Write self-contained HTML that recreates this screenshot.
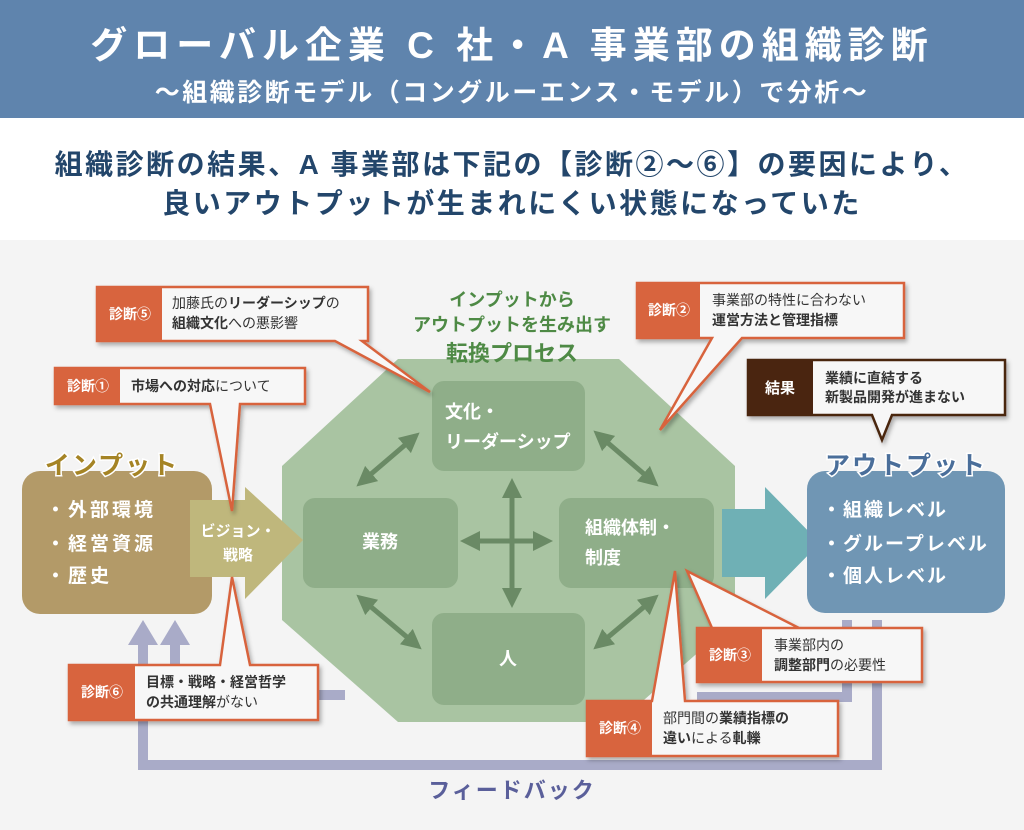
<!DOCTYPE html>
<html><head><meta charset="utf-8"><style>
html,body{margin:0;padding:0;width:1024px;height:830px;overflow:hidden;background:#f4f4f4}
svg{display:block}
text{font-family:"Liberation Sans","Noto Sans CJK JP",sans-serif;font-weight:bold}
.n{font-weight:normal}
</style></head><body>
<svg width="1024" height="830" viewBox="0 0 1024 830" xmlns="http://www.w3.org/2000/svg">
<defs>
<filter id="sh" x="-10%" y="-10%" width="130%" height="140%"><feDropShadow dx="2" dy="3" stdDeviation="2" flood-color="#000" flood-opacity="0.3"/></filter>
<marker id="ah" markerWidth="4" markerHeight="4" refX="2" refY="2" orient="auto-start-reverse"><path d="M0,0 L4,2 L0,4 z" fill="#6a8a65"/></marker>
</defs>
<rect x="0" y="0" width="1024" height="118" fill="#5f84ad"/>
<rect x="0" y="118" width="1024" height="122" fill="#ffffff"/>
<text x="512" y="58" font-size="37" fill="#fff" text-anchor="middle" letter-spacing="6">グローバル企業 C 社・A 事業部の組織診断</text>
<text x="512" y="101" font-size="25" fill="#fff" text-anchor="middle" letter-spacing="2.5">〜組織診断モデル（コングルーエンス・モデル）で分析〜</text>
<text x="512" y="174" font-size="28" fill="#23466b" text-anchor="middle" letter-spacing="2.5">組織診断の結果、A 事業部は下記の【診断②〜⑥】の要因により、</text>
<text x="512" y="213" font-size="28" fill="#23466b" text-anchor="middle" letter-spacing="2.5">良いアウトプットが生まれにくい状態になっていた</text>

<!-- feedback lines -->
<g stroke="#a9abc8" stroke-width="10" fill="none">
<polyline points="143,635 143,765 877,765 877,620"/>
<polyline points="175,635 175,695 345,695"/>
<polyline points="847,620 847,697 697,697"/>
</g>
<path d="M128,645 L143,620 L158,645 z" fill="#a9abc8"/>
<path d="M160,645 L175,620 L190,645 z" fill="#a9abc8"/>
<text x="512" y="798" font-size="22" fill="#5a5f9a" text-anchor="middle" letter-spacing="2">フィードバック</text>

<!-- octagon -->
<polygon points="398,359 619,359 735,466 735,620 619,722 398,722 282,620 282,466" fill="#a9c4a2"/>
<text x="512" y="306" font-size="18" fill="#4e8a45" text-anchor="middle">インプットから</text>
<text x="512" y="331" font-size="18" fill="#4e8a45" text-anchor="middle">アウトプットを生み出す</text>
<text x="512" y="361" font-size="22" fill="#4e8a45" text-anchor="middle">転換プロセス</text>

<g fill="#8fae89">
<rect x="432" y="381" width="153" height="90" rx="12"/>
<rect x="303" y="498" width="155" height="90" rx="12"/>
<rect x="559" y="498" width="155" height="90" rx="12"/>
<rect x="432" y="613" width="153" height="92" rx="12"/>
</g>
<g font-size="18" fill="#fff">
<text x="445" y="418">文化・</text>
<text x="445" y="448">リーダーシップ</text>
<text x="380" y="548" text-anchor="middle">業務</text>
<text x="585" y="534">組織体制・</text>
<text x="585" y="564">制度</text>
<text x="508" y="665" text-anchor="middle">人</text>
</g>
<g stroke="#6a8a65" stroke-width="5" marker-start="url(#ah)" marker-end="url(#ah)">
<line x1="412" y1="439" x2="364" y2="480"/>
<line x1="601" y1="437" x2="651" y2="480"/>
<line x1="364" y1="601" x2="414" y2="643"/>
<line x1="651" y1="601" x2="601" y2="643"/>
<line x1="512" y1="488" x2="512" y2="598"/>
<line x1="470" y1="541" x2="543" y2="541"/>
</g>

<!-- input -->
<rect x="22" y="471" width="190" height="143" rx="18" fill="#b39a68"/>
<text x="112" y="474" font-size="25" fill="#a58425" stroke="#fff" stroke-width="3" paint-order="stroke" text-anchor="middle" letter-spacing="2">インプット</text>
<g font-size="19" fill="#fff" letter-spacing="3">
<text x="46" y="516">・外部環境</text>
<text x="46" y="550">・経営資源</text>
<text x="46" y="582">・歴史</text>
</g>
<polygon points="190,500 245,500 245,487 303,540 245,599 245,577 190,577" fill="#bfb77c"/>
<text x="238" y="536" font-size="15" fill="#fff" text-anchor="middle">ビジョン・</text>
<text x="238" y="560" font-size="15" fill="#fff" text-anchor="middle">戦略</text>

<!-- output -->
<polygon points="722,509 765,509 765,487 820,543 765,599 765,577 722,577" fill="#6fb0b5"/>
<rect x="807" y="471" width="198" height="142" rx="18" fill="#7096b4"/>
<text x="906" y="474" font-size="25" fill="#4a6e9a" stroke="#fff" stroke-width="3" paint-order="stroke" text-anchor="middle" letter-spacing="2">アウトプット</text>
<g font-size="19" fill="#fff" letter-spacing="2">
<text x="822" y="516">・組織レベル</text>
<text x="822" y="550">・グループレベル</text>
<text x="822" y="582">・個人レベル</text>
</g>

<!-- callouts -->
<g stroke="#d8643e" stroke-width="2.5" fill="#f7f7f7" stroke-linejoin="miter">
<polygon points="97,287 368,287 368,341 362,341 430,392 335,341 97,341" filter="url(#sh)"/>
<polygon points="55,368 305,368 305,404 240,404 232,511 210,404 55,404" filter="url(#sh)"/>
<polygon points="637,283 904,283 904,338 742,338 660,430 712,338 637,338" filter="url(#sh)"/>
<polygon points="697,628 922,628 922,682 697,682 697,628 799,628 687,571 712,628" filter="url(#sh)"/>
<polygon points="587,701 652,701 675,571 685,701 838,701 838,756 587,756" filter="url(#sh)"/>
<polygon points="69,665 220,665 232,577 250,665 318,665 318,720 69,720" filter="url(#sh)"/>
</g>
<polygon points="748,360 1005,360 1005,415 892,415 882,440 872,415 748,415" fill="#f7f7f7" stroke="#4a2510" stroke-width="2.5" filter="url(#sh)"/>
<g fill="#d8643e">
<rect x="97" y="287" width="65" height="54"/>
<rect x="55" y="368" width="65" height="36"/>
<rect x="637" y="283" width="63" height="55"/>
<rect x="697" y="628" width="65" height="54"/>
<rect x="587" y="701" width="65" height="55"/>
<rect x="69" y="665" width="66" height="55"/>
</g>
<rect x="748" y="360" width="65" height="55" fill="#4a2510"/>
<g font-size="14" fill="#fff" text-anchor="middle">
<text x="130" y="319">診断⑤</text>
<text x="88" y="391">診断①</text>
<text x="669" y="315">診断②</text>
<text x="730" y="660">診断③</text>
<text x="620" y="733">診断④</text>
<text x="102" y="697">診断⑥</text>
<text x="780" y="393" font-size="15">結果</text>
</g>
<g font-size="14" fill="#333">
<text x="172" y="308"><tspan class="n">加藤氏の</tspan>リーダーシップ<tspan class="n">の</tspan></text>
<text x="172" y="328">組織文化<tspan class="n">への悪影響</tspan></text>
<text x="131" y="391">市場への対応<tspan class="n">について</tspan></text>
<text x="712" y="305" class="n">事業部の特性に合わない</text>
<text x="712" y="325">運営方法と管理指標</text>
<text x="825" y="383">業績に直結する</text>
<text x="825" y="402">新製品開発が進まない</text>
<text x="774" y="650" class="n">事業部内の</text>
<text x="774" y="670">調整部門<tspan class="n">の必要性</tspan></text>
<text x="663" y="723"><tspan class="n">部門間の</tspan>業績指標の</text>
<text x="663" y="743">違い<tspan class="n">による</tspan>軋轢</text>
<text x="146" y="687">目標・戦略・経営哲学</text>
<text x="146" y="707">の共通理解<tspan class="n">がない</tspan></text>
</g>
</svg>
</body></html>
